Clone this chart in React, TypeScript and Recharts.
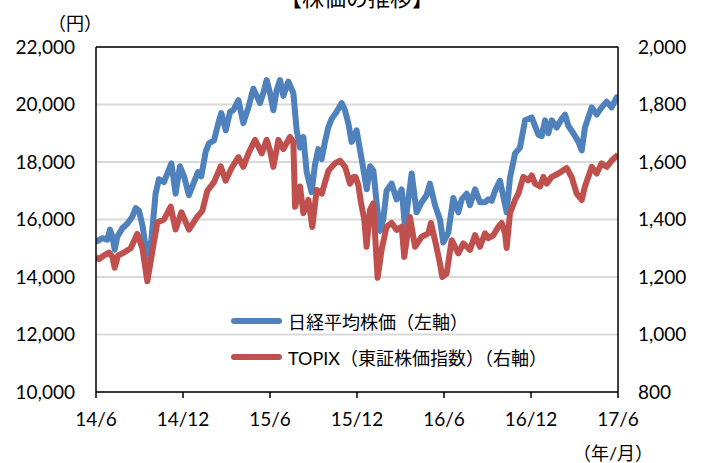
import React from 'react';
import { LineChart, Line, XAxis, YAxis, CartesianGrid, ReferenceLine } from 'recharts';

// months elapsed since 2014/6
const nikkeiMonths = [0, 0.09, 0.44, 0.78, 0.97, 1.13, 1.29, 1.47, 1.82, 2.16, 2.51, 2.74, 2.97, 3.2, 3.54, 3.82, 4.11, 4.34, 4.69, 4.92, 5.2, 5.49, 5.79, 6.07, 6.41, 6.76, 7.03, 7.26, 7.56, 7.79, 8.14, 8.41, 8.64, 8.95, 9.25, 9.47, 9.82, 10.16, 10.51, 10.85, 11.31, 11.54, 11.77, 12.0, 12.23, 12.46, 12.69, 12.92, 13.26, 13.61, 13.84, 14.07, 14.3, 14.53, 14.87, 15.1, 15.33, 15.56, 15.79, 16.02, 16.25, 16.6, 16.94, 17.17, 17.4, 17.63, 17.97, 18.32, 18.67, 18.9, 19.13, 19.36, 19.58, 19.81, 20.04, 20.39, 20.73, 21.08, 21.31, 21.54, 21.77, 22.11, 22.46, 22.8, 23.03, 23.38, 23.72, 23.95, 24.3, 24.64, 24.99, 25.22, 25.56, 25.79, 26.14, 26.48, 26.83, 27.06, 27.29, 27.52, 27.86, 28.09, 28.32, 28.55, 28.9, 29.24, 29.59, 30.05, 30.28, 30.51, 30.74, 30.97, 31.2, 31.43, 31.77, 32.12, 32.35, 32.58, 32.92, 33.27, 33.5, 33.72, 34.19, 34.53, 34.87, 35.22, 35.56, 35.91, 36];
const nikkeiValues = [15300, 15250, 15350, 15300, 15650, 15400, 14950, 15400, 15700, 15850, 16100, 16400, 16300, 15800, 14650, 15300, 16900, 17400, 17300, 17600, 17950, 16900, 17850, 17500, 16850, 17300, 17650, 17500, 18350, 18650, 18750, 19300, 19700, 19100, 19750, 19800, 20150, 19350, 19900, 20550, 20050, 20400, 20850, 20400, 19800, 20500, 20850, 20300, 20800, 20400, 19100, 18500, 18870, 17650, 16950, 17900, 18450, 18100, 18700, 19200, 19500, 19750, 20050, 19800, 19350, 18700, 19100, 18100, 17050, 17850, 17700, 16550, 15600, 16000, 17000, 17250, 16700, 17050, 15750, 16700, 17600, 16250, 16600, 16850, 17250, 16500, 16000, 15200, 15550, 16750, 16250, 16700, 16900, 16500, 17050, 16600, 16600, 16700, 16650, 17000, 17350, 16800, 16250, 17450, 18300, 18500, 19450, 19550, 19250, 18950, 18900, 19450, 19000, 19450, 19200, 19500, 19650, 19250, 19000, 18700, 18400, 19200, 19900, 19650, 19900, 20100, 19900, 20250, 20100];

const topixMonths = [0, 0.21, 0.55, 0.9, 1.13, 1.29, 1.52, 1.93, 2.39, 2.85, 3.2, 3.54, 3.89, 4.23, 4.69, 5.15, 5.49, 5.89, 6.41, 6.99, 7.33, 7.68, 8.14, 8.6, 8.94, 9.36, 9.82, 10.16, 10.51, 10.97, 11.43, 11.77, 12.0, 12.23, 12.58, 12.92, 13.38, 13.61, 13.73, 14.07, 14.3, 14.65, 14.92, 15.22, 15.57, 16.03, 16.49, 16.83, 17.18, 17.52, 17.75, 17.9, 18.09, 18.27, 18.5, 18.66, 18.89, 19.12, 19.42, 19.7, 20.04, 20.39, 20.73, 21.08, 21.26, 21.65, 22.0, 22.46, 22.92, 23.1, 23.38, 23.72, 23.88, 24.18, 24.53, 24.99, 25.33, 25.79, 26.14, 26.48, 26.83, 27.06, 27.4, 27.75, 27.98, 28.21, 28.32, 28.55, 28.9, 29.13, 29.47, 29.82, 30.05, 30.28, 30.62, 30.85, 31.08, 31.43, 31.89, 32.46, 32.8, 33.15, 33.5, 33.72, 34.19, 34.53, 34.87, 35.22, 35.56, 36];
const topixValues = [1270, 1262, 1275, 1285, 1270, 1232, 1275, 1285, 1300, 1350, 1300, 1185, 1290, 1390, 1400, 1445, 1365, 1425, 1365, 1410, 1430, 1500, 1530, 1585, 1535, 1580, 1617, 1583, 1630, 1677, 1630, 1677, 1640, 1583, 1677, 1645, 1687, 1670, 1444, 1515, 1422, 1468, 1374, 1503, 1490, 1570, 1596, 1605, 1583, 1525, 1548, 1548, 1520, 1460, 1400, 1305, 1433, 1456, 1197, 1295, 1375, 1388, 1364, 1375, 1270, 1409, 1305, 1340, 1352, 1388, 1328, 1247, 1200, 1212, 1328, 1282, 1317, 1294, 1346, 1305, 1352, 1335, 1345, 1375, 1388, 1352, 1301, 1422, 1468, 1490, 1548, 1536, 1553, 1525, 1515, 1548, 1525, 1548, 1560, 1579, 1548, 1490, 1468, 1515, 1583, 1560, 1595, 1583, 1605, 1625];

const xTickMonths = [0, 6, 12, 18, 24, 30, 36];
const xTickLabels = ['14/6', '14/12', '15/6', '15/12', '16/6', '16/12', '17/6'];
const leftTicks = [10000, 12000, 14000, 16000, 18000, 20000, 22000];
const rightTicks = [800, 1000, 1200, 1400, 1600, 1800, 2000];

const seriesNames = ['日経平均株価（左軸）', 'TOPIX（東証株価指数）（右軸）'];
const title = '【株価の推移】';
const leftUnit = '（円）';
const xUnit = '（年/月）';

const BLUE = '#4F81BD';
const RED = '#C0504D';
const FONT = "Lato, 'Noto Sans CJK JP', sans-serif";

type Row = { t: number; nikkei?: number; topix?: number };
const buildData = (): Row[] => {
  const map = new Map<number, Row>();
  nikkeiMonths.forEach((t, i) => {
    const r = map.get(t) || { t };
    r.nikkei = nikkeiValues[i];
    map.set(t, r);
  });
  topixMonths.forEach((t, i) => {
    const r = map.get(t) || { t };
    r.topix = topixValues[i];
    map.set(t, r);
  });
  return Array.from(map.values()).sort((a, b) => a.t - b.t);
};
const data = buildData();

const fmt = (v: number) => v.toLocaleString('en-US');

export default function App() {
  return (
    <div style={{ position: 'absolute', left: 0, top: 0, width: 704, height: 463, background: '#fff', overflow: 'hidden' }}>
      <LineChart width={704} height={463} data={data} margin={{ top: 47, right: 0, bottom: 41, left: 0 }}>
        <CartesianGrid horizontal vertical={false} stroke="#d9d9d9" strokeWidth={2} yAxisId="left" />
        <XAxis
          dataKey="t"
          type="number"
          domain={[0, 36]}
          ticks={xTickMonths}
          tickFormatter={(v: number) => xTickLabels[xTickMonths.indexOf(v)]}
          stroke="#000"
          strokeWidth={1.5}
          tickSize={6}
          tickMargin={15}
          height={30}
          tick={{ fill: '#000', fontSize: 19, fontFamily: FONT }}
          allowDataOverflow
        />
        <YAxis
          yAxisId="left"
          domain={[10000, 22000]}
          ticks={leftTicks}
          tickFormatter={fmt}
          width={96}
          stroke="#000"
          strokeWidth={1.5}
          tickLine={false}
          tickSize={0}
          tickMargin={21}
          tick={{ fill: '#000', fontSize: 19, fontFamily: FONT }}
          allowDataOverflow
        />
        <YAxis
          yAxisId="right"
          orientation="right"
          domain={[800, 2000]}
          ticks={rightTicks}
          tickFormatter={fmt}
          width={86}
          stroke="#000"
          strokeWidth={1.5}
          tickLine={false}
          tickSize={0}
          tickMargin={20}
          tick={{ fill: '#000', fontSize: 19, fontFamily: FONT, textAnchor: 'start' }}
          allowDataOverflow
        />
        <ReferenceLine yAxisId="left" y={22000} stroke="#000" strokeWidth={1.5} />
        <Line yAxisId="left" dataKey="nikkei" stroke={BLUE} strokeWidth={6} dot={false} connectNulls isAnimationActive={false} strokeLinejoin="round" />
        <Line yAxisId="right" dataKey="topix" stroke={RED} strokeWidth={6} dot={false} connectNulls isAnimationActive={false} strokeLinejoin="round" />
        <text x={357} y={6} textAnchor="middle" fontSize={22} fontFamily={FONT} fill="#000">{title}</text>
        <text x={75} y={23} textAnchor="middle" dominantBaseline="central" fontSize={18} fontFamily={FONT} fill="#000">{leftUnit}</text>
        <text x={613} y={453} textAnchor="middle" dominantBaseline="central" fontSize={18} fontFamily={FONT} fill="#000">{xUnit}</text>
      </LineChart>
      <div style={{ position: 'absolute', left: 231, top: 303, fontFamily: FONT, fontSize: 18, color: '#000' }}>
        {[BLUE, RED].map((c, i) => (
          <div key={i} style={{ display: 'flex', alignItems: 'center', height: 36 }}>
            <div style={{ width: 51, height: 6, background: c, borderRadius: 3, marginRight: 6 }} />
            <span style={{ whiteSpace: 'nowrap' }}>{seriesNames[i]}</span>
          </div>
        ))}
      </div>
    </div>
  );
}
